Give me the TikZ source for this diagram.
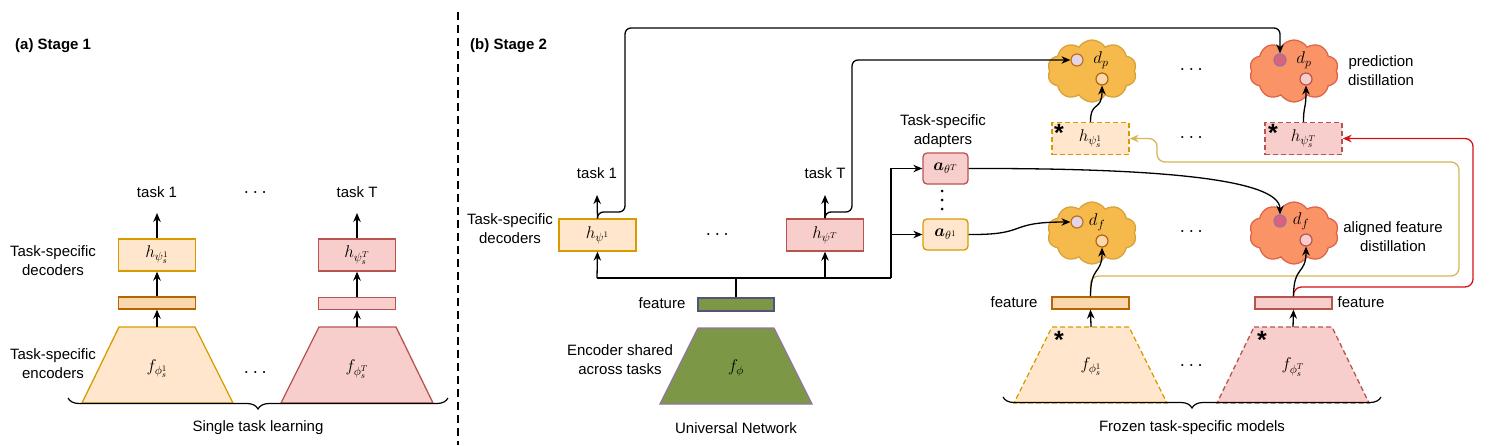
\RequirePackage{fix-cm}
\documentclass[tikz,border=0pt]{standalone}
\usepackage{amsmath}
\usepackage{fontspec}
\setmainfont{Liberation Sans}
\usetikzlibrary{arrows.meta,shapes.symbols,decorations.pathreplacing}
\definecolor{oF}{HTML}{FFE6CC}
\definecolor{oD}{HTML}{D79B00}
\definecolor{obF}{HTML}{FAD7AC}
\definecolor{obD}{HTML}{B46504}
\definecolor{rF}{HTML}{F8CECC}
\definecolor{rD}{HTML}{B85450}
\definecolor{gF}{HTML}{7C9745}
\definecolor{gBarD}{HTML}{56517E}
\definecolor{gTrD}{HTML}{9673A6}
\definecolor{cOF}{HTML}{F5B94C}
\definecolor{cOD}{HTML}{D9A23A}
\definecolor{cRF}{HTML}{FA9365}
\definecolor{cRD}{HTML}{E0644A}
\definecolor{pF}{HTML}{E1D5E7}
\definecolor{pD}{HTML}{C0711E}
\definecolor{dpF}{HTML}{D9627F}
\definecolor{yL}{HTML}{D6B656}
\definecolor{rL}{HTML}{D80F14}
\begin{document}
\begin{tikzpicture}[x=1pt,y=-1pt,
  lbl/.style={font=\fontsize{15}{19}\selectfont, align=center, inner sep=0},
  ttl/.style={font=\fontsize{15}{19}\selectfont\bfseries, anchor=west, inner sep=0},
  mth/.style={font=\fontsize{17}{19}\selectfont, inner sep=0},
  dts/.style={font=\fontsize{20}{20}\selectfont, inner sep=0},
  ast/.style={font=\fontsize{25}{25}\selectfont\bfseries, inner sep=0},
  box/.style={draw, line width=1.3pt, minimum width=77pt, minimum height=32pt, inner sep=0, font=\fontsize{17}{19}\selectfont},
  obox/.style={box, fill=oF, draw=oD},
  rbox/.style={box, fill=rF, draw=rD},
  bar/.style={draw, line width=1.3pt, minimum width=77pt, minimum height=12pt, inner sep=0},
  obar/.style={bar, fill=obF, draw=obD},
  rbar/.style={bar, fill=rF, draw=rD},
  gbar/.style={bar, fill=gF, draw=gBarD, minimum width=76pt, minimum height=13pt},
  adp/.style={draw, line width=1.3pt, rounded corners=4pt, minimum width=45pt, minimum height=31pt, inner sep=0, font=\fontsize{17}{19}\selectfont},
  otrap/.style={fill=oF, draw=oD, line width=1.3pt},
  rtrap/.style={fill=rF, draw=rD, line width=1.3pt},
  fdash/.style={dash pattern=on 5pt off 3pt},
  cld/.style={cloud, cloud puffs=10, cloud puff arc=115, aspect=1.43, minimum width=89pt, minimum height=62pt, inner sep=0, line width=1.3pt},
  cO/.style={cld, fill=cOF, draw=cOD},
  cR/.style={cld, fill=cRF, draw=cRD},
  circ/.style={circle, minimum size=12pt, inner sep=0, line width=1.2pt},
  ln/.style={line width=1.3pt},
  arr/.style={line width=1.3pt, -{Stealth[length=9pt,width=7.5pt]}},
  brc/.style={line width=1.2pt, decorate, decoration={brace, amplitude=11pt}},
]
\useasboundingbox (0,0) rectangle (1509,445);

% ================= (a) Stage 1 =================
\node[ttl] (ta) at (15,46) {(a) Stage 1};
\node[lbl] (task1L) at (157,192) {task 1};
\node[lbl] (taskTL) at (357,192) {task T};
\node[dts] (dotsL1) at (257,193) {$\cdots$};
\node[obox] (hL1) at (157,255) {$h_{\psi_s^1}$};
\node[rbox] (hLT) at (357,255) {$h_{\psi_s^T}$};
\node[obar] (bL1) at (157,303) {};
\node[rbar] (bLT) at (357,303.5) {};
\draw[otrap] (119,327) -- (195,327) -- (233,403) -- (82,403) -- cycle;
\draw[rtrap] (319,327) -- (396,327) -- (433,403) -- (281,403) -- cycle;
\coordinate (zL1) at (157,327);
\coordinate (zLT) at (357,327);
\coordinate (oL1) at (157,213);
\coordinate (oLT) at (357,213);
\node[mth] (fL1) at (157,369) {$f_{\phi_s^1}$};
\node[mth] (fLT) at (357,369) {$f_{\phi_s^T}$};
\node[dts] (dotsL2) at (257,373) {$\cdots$};
\draw[arr] (hL1.north) -- (oL1);
\draw[arr] (hLT.north) -- (oLT);
\draw[arr] (bL1.north) -- (hL1.south);
\draw[arr] (bLT.north) -- (hLT.south);
\draw[arr] (zL1) -- (bL1.south);
\draw[arr] (zLT) -- (bLT.south);
\node[lbl] (decL) at (53,261) {Task-specific\\decoders};
\node[lbl] (encL) at (53,364) {Task-specific\\encoders};
\coordinate (brL1) at (448,398);
\coordinate (brL2) at (68,398);
\draw[brc] (brL1) -- (brL2);
\node[lbl] (stl) at (258,428) {Single task learning};

% divider
\coordinate (dv1) at (458,12);
\coordinate (dv2) at (458,445);
\draw[line width=2pt, dash pattern=on 8pt off 5pt] (dv1) -- (dv2);

% ================= (b) Stage 2 =================
\node[ttl] (tb) at (470,46) {(b) Stage 2};
\node[obox] (hU1) at (597.5,235) {$h_{\psi^1}$};
\node[rbox] (hUT) at (825,235) {$h_{\psi^T}$};
\node[lbl] (task1R) at (597,173) {task 1};
\node[lbl] (taskTR) at (825,173) {task T};
\node[dts] (dotsU) at (719,235) {$\cdots$};
\node[lbl] (decR) at (510,229) {Task-specific\\decoders};
\coordinate (oR1) at (597,195);
\coordinate (oRT) at (825,195);
\draw[arr] (hU1.north) -- (oR1);
\draw[arr] (hUT.north) -- (oRT);

\node[gbar] (gb) at (736,304.5) {};
\draw[fill=gF, draw=gTrD, line width=1.3pt] (698,328) -- (774,328) -- (812,404) -- (660,404) -- cycle;
\node[mth] (fphi) at (736,368) {$f_{\phi}$};
\node[lbl] (featU) at (662,303) {feature};
\node[lbl] (encS) at (620,360) {Encoder shared\\across tasks};
\node[lbl] (univ) at (736,428) {Universal Network};

% adapters
\node[adp, fill=rF, draw=rD] (aT) at (945.5,168.5) {$\boldsymbol{a}_{\theta^T}$};
\node[adp, fill=oF, draw=oD] (a1) at (945.5,234.5) {$\boldsymbol{a}_{\theta^1}$};
\fill (942,191) circle (1.5pt) (942,200) circle (1.5pt) (942,209) circle (1.5pt);
\node[lbl] (adL) at (943,131) {Task-specific\\adapters};

% bus
\coordinate (bus) at (736,278);
\coordinate (busL) at (597,278);
\coordinate (busT) at (825,278);
\coordinate (busR) at (891,278);
\coordinate (busA) at (891,168.5);
\coordinate (busB) at (891,234.5);
\draw[ln] (gb.north) -- (bus);
\draw[ln] (busL) -- (busR);
\draw[arr] (busL) -- (hU1.south);
\draw[arr] (busT) -- (hUT.south);
\draw[arr] (busR) -- (busA) -- (aT.west);
\draw[arr] (busB) -- (a1.west);

% clouds
\node[cO] (c1) at (1092,71) {};
\node[cR] (c2) at (1294,71) {};
\node[cO] (c3) at (1092,233) {};
\node[cR] (c4) at (1294,233) {};
\node[circ, fill=pF, draw=pD] (c1a) at (1077,60) {};
\node[circ, fill=obF, draw=obD] (c1b) at (1102,79) {};
\node[circ, fill=dpF, draw=gTrD] (c2a) at (1280,60) {};
\node[circ, fill=rF, draw=rD] (c2b) at (1306,79) {};
\node[circ, fill=pF, draw=pD] (c3a) at (1077,222) {};
\node[circ, fill=obF, draw=obD] (c3b) at (1102,241) {};
\node[circ, fill=dpF, draw=gTrD] (c4a) at (1280,221) {};
\node[circ, fill=rF, draw=rD] (c4b) at (1306,240) {};
\node[mth] (dp1) at (1101,60) {$d_p$};
\node[mth] (dp2) at (1304,60) {$d_p$};
\node[mth] (df1) at (1097,222) {$d_f$};
\node[mth] (df2) at (1301,221) {$d_f$};
\node[lbl] (pdist) at (1381,71) {prediction\\distillation};
\node[lbl] (fdist) at (1393,237) {aligned feature\\distillation};
\node[dts] (dotsC1) at (1193,70) {$\cdots$};
\node[dts] (dotsC2) at (1193,138) {$\cdots$};
\node[dts] (dotsC3) at (1193,232) {$\cdots$};

% student decoders (frozen)
\node[obox, fdash] (hs1) at (1090.5,138.5) {$h_{\psi_s^1}$};
\node[rbox, fdash] (hsT) at (1303.5,138.5) {$h_{\psi_s^T}$};
\node[ast] (as1) at (1059,133) {*};
\node[ast] (as2) at (1273,133) {*};

% frozen features and encoders
\node[obar] (fb1) at (1090.5,303) {};
\node[rbar] (fbT) at (1293.5,303) {};
\node[lbl] (featF1) at (1014,302) {feature};
\node[lbl] (featFT) at (1361,302) {feature};
\draw[otrap, fdash] (1052,327) -- (1129,327) -- (1167,403) -- (1014,403) -- cycle;
\draw[rtrap, fdash] (1254,327) -- (1332,327) -- (1369,403) -- (1217,403) -- cycle;
\coordinate (zF1) at (1091,327);
\coordinate (zFT) at (1293,327);
\node[ast] (as3) at (1059,340) {*};
\node[ast] (as4) at (1262,340) {*};
\node[mth] (fF1) at (1091,367) {$f_{\phi_s^1}$};
\node[mth] (fFT) at (1293,367) {$f_{\phi_s^T}$};
\node[dts] (dotsF) at (1193,366) {$\cdots$};
\draw[arr] (zF1) -- (fb1.south);
\draw[arr] (zFT) -- (fbT.south);
\coordinate (brF1) at (1381,397);
\coordinate (brF2) at (1003,397);
\draw[brc] (brF1) -- (brF2);
\node[lbl] (frz) at (1192,428) {Frozen task-specific models};

% coloured feedback lines
\draw[line width=1.3pt, draw=yL, -{Stealth[length=9pt,width=7.5pt]}, rounded corners=8pt]
  (fb1.north) -- (1090.5,276) -- (1459,276) -- (1459,162) -- (1157,162) -- (1157,138.5) -- (hs1.east);
\draw[line width=1.3pt, draw=rL, -{Stealth[length=9pt,width=7.5pt]}, rounded corners=8pt]
  (fbT.north) -- (1293.5,287) -- (1473,287) -- (1473,138.5) -- (hsT.east);

% long connectors
\draw[arr, rounded corners=6pt] (hU1.north) -- (597.5,212) -- (625,212) -- (625,28) -- (1280,28) -- (c2a.north);
\draw[arr, rounded corners=6pt] (hUT.north) -- (825,212) -- (852,212) -- (852,60) -- (c1a.west);
\draw[arr] (aT.east) .. controls (1150,168) and (1280,178) .. (c4a.north);
\draw[arr] (a1.east) .. controls (1030,235) and (1005,222) .. (c3a.west);
\draw[arr] (hs1.north) .. controls (1090.5,100) and (1102,112) .. (c1b.south);
\draw[arr] (hsT.north) .. controls (1303.5,105) and (1306,110) .. (c2b.south);
\draw[arr] (fb1.north) .. controls (1090.5,265) and (1102,275) .. (c3b.south);
\draw[arr] (fbT.north) .. controls (1293.5,265) and (1306,275) .. (c4b.south);
\end{tikzpicture}
\end{document}
